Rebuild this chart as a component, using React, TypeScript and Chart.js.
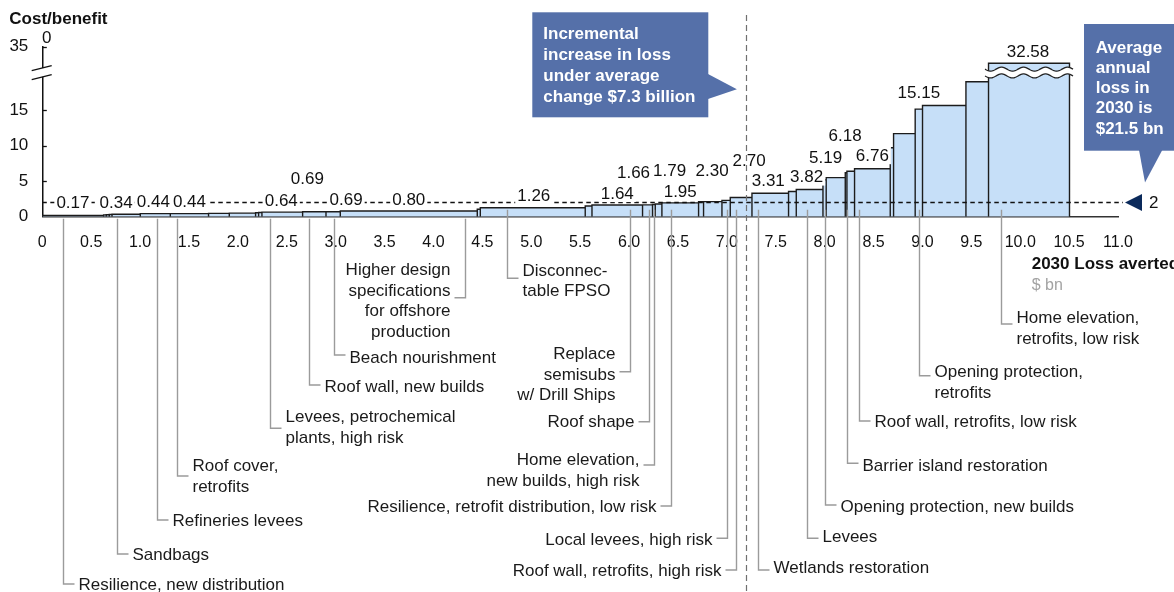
import React, { useEffect, useRef } from 'react';
import { Chart, registerables } from 'chart.js';

Chart.register(...registerables);

// ---------------- DATA ----------------
// width of each bar = 2030 loss averted ($ bn), in curve order
const WIDTHS = [
  0.627, 0.027, 0.031, 0.028, 0.289, 0.307, 0.391, 0.212, 0.269, 0.031, 0.034,
  0.416, 0.239, 0.146, 1.401, 0.031, 1.073, 0.069, 0.517, 0.102, 0.028, 0.068,
  0.375, 0.051, 0.188, 0.085, 0.222, 0.374, 0.079, 0.273, 0.033, 0.195, 0.017,
  0.078, 0.365, 0.034, 0.221, 0.075, 0.444, 0.231, 0.828,
];
// height of each bar = cost/benefit ratio
const HEIGHTS = [
  0.17, 0.25, 0.28, 0.31, 0.34, 0.44, 0.44, 0.47, 0.5, 0.55, 0.6,
  0.64, 0.69, 0.69, 0.8, 1.05, 1.26, 1.5, 1.64, 1.66, 1.72, 1.79,
  1.95, 2.1, 2.12, 2.3, 2.7, 3.31, 3.55, 3.82, 5.19, 5.5, 6.18,
  6.4, 6.76, 9.7, 11.7, 15.15, 15.65, 19.0, 32.58,
];
// bars whose ratio is printed
const VALUE_LABEL_BARS = [0, 4, 5, 6, 11, 12, 13, 14, 16, 18, 19, 21, 22, 25, 26, 27, 29, 30, 32, 34, 37, 40];
// bars with a measure name
const NAME_BARS = [0, 4, 5, 6, 11, 12, 13, 14, 16, 18, 19, 20, 22, 25, 26, 27, 29, 30, 32, 34, 37, 40];
const NAMES = [
  'Resilience, new distribution',
  'Sandbags',
  'Refineries levees',
  'Roof cover,\nretrofits',
  'Levees, petrochemical\nplants, high risk',
  'Roof wall, new builds',
  'Beach nourishment',
  'Higher design\nspecifications\nfor offshore\nproduction',
  'Disconnec-\ntable FPSO',
  'Replace\nsemisubs\nw/ Drill Ships',
  'Roof shape',
  'Home elevation,\nnew builds, high risk',
  'Resilience, retrofit distribution, low risk',
  'Local levees, high risk',
  'Roof wall, retrofits, high risk',
  'Wetlands restoration',
  'Levees',
  'Opening protection, new builds',
  'Barrier island restoration',
  'Roof wall, retrofits, low risk',
  'Opening protection,\nretrofits',
  'Home elevation,\nretrofits, low risk',
];
const X_TICK_VALUES = [0, 0.5, 1, 1.5, 2, 2.5, 3, 3.5, 4, 4.5, 5, 5.5, 6, 6.5, 7, 7.5, 8, 8.5, 9, 9.5, 10, 10.5, 11];
const X_TICK_LABELS = ['0', '0.5', '1.0', '1.5', '2.0', '2.5', '3.0', '3.5', '4.0', '4.5', '5.0', '5.5', '6.0', '6.5', '7.0', '7.5', '8.0', '8.5', '9.0', '9.5', '10.0', '10.5', '11.0'];
const Y_TICK_VALUES = [0, 5, 10, 15];
const Y_TOP_LABEL = '35';
const THRESHOLD = 2; // cost/benefit threshold line
const INCREMENTAL_X = 7.2; // loss averted matching incremental increase
const CALLOUT_1 = ['Incremental', 'increase in loss', 'under average', 'change $7.3 billion'];
const CALLOUT_2 = ['Average', 'annual', 'loss in', '2030 is', '$21.5 bn'];

// ---------------- AXIS BREAK ----------------
const X_MAX = 11;
const Y_MAX = 23.94; // drawn top of axis (labelled 35)
const BREAK_AT = 20; // values above are drawn broken
const BROKEN_BAR_DISPLAY = 21.6;
const BREAK_MARK = 20.3;
const displayHeight = (v: number) => (v > BREAK_AT ? BROKEN_BAR_DISPLAY : v);

// ---------------- LAYOUT (pixels) ----------------
const VALUE_LABEL_NUDGE: [number, number][] = [
  [0, 1.5], [-10, 0], [-2, 0], [0, 0], [-1, 0], [-7, 21], [13, 0], [0, 0], [1, 0], [0, 0], [-14, 21],
  [11, 22], [0, 0], [-14, 18], [8, 25], [-2, 1], [-3, 1], [1, 11], [-1, 26], [0, 1.5], [0, 5], [-1, 0],
];
type NL = { side: 'L' | 'R'; dx: number; hy: number; ty: number };
const NAME_LAYOUT: NL[] = [
  { side: 'R', dx: -9.6, hy: 584, ty: 584 },
  { side: 'R', dx: -9.6, hy: 554, ty: 554 },
  { side: 'R', dx: 1.7, hy: 520, ty: 520 },
  { side: 'R', dx: -12.3, hy: 476, ty: 465.7 },
  { side: 'R', dx: -12.7, hy: 428.3, ty: 416.7 },
  { side: 'R', dx: -5.7, hy: 385, ty: 386 },
  { side: 'R', dx: 0.4, hy: 355, ty: 357 },
  { side: 'L', dx: 56.5, hy: 297.7, ty: 269.3 },
  { side: 'R', dx: -25.8, hy: 278.3, ty: 270 },
  { side: 'L', dx: 12.3, hy: 371.7, ty: 353.3 },
  { side: 'L', dx: 1, hy: 421.7, ty: 421.7 },
  { side: 'L', dx: 0.3, hy: 465, ty: 459.3 },
  { side: 'L', dx: -9, hy: 506, ty: 506 },
  { side: 'L', dx: 0.8, hy: 538.3, ty: 539.3 },
  { side: 'L', dx: -4.9, hy: 570, ty: 570 },
  { side: 'R', dx: -12.7, hy: 570, ty: 567.3 },
  { side: 'R', dx: -2.7, hy: 538.3, ty: 536.7 },
  { side: 'R', dx: 0.6, hy: 505, ty: 506 },
  { side: 'R', dx: 0.8, hy: 463.3, ty: 465 },
  { side: 'R', dx: -13.8, hy: 421, ty: 421.7 },
  { side: 'R', dx: -0.3, hy: 375.7, ty: 371.7 },
  { side: 'R', dx: -27.8, hy: 324, ty: 317.3 },
];

const FONT = '"Liberation Sans", Arial, Helvetica, sans-serif';
const BAR_FILL = '#C6DFF8';
const BAR_EDGE = '#1c1c1c';
const CALLOUT_BLUE = '#5570A9';

const STARTS: number[] = [];
{
  let acc = 0;
  for (const w of WIDTHS) {
    STARTS.push(acc);
    acc += w;
  }
}

const overlayPlugin = {
  id: 'costCurveOverlay',
  afterDatasetsDraw(chart: any) {
    const { ctx, chartArea, scales } = chart;
    const xs = scales.x;
    const ys = scales.y;
    const px = (v: number) => xs.getPixelForValue(v);
    const py = (v: number) => ys.getPixelForValue(v);
    const base = py(0);
    const axisX = chartArea.left;
    ctx.save();

    // broken bar wave
    HEIGHTS.forEach((h, i) => {
      if (h <= BREAK_AT) return;
      const x0 = px(STARTS[i]) - 3.5;
      const x1 = px(STARTS[i] + WIDTHS[i]) + 4;
      const yc = py(BREAK_MARK);
      const wave = (x: number) => 2 * Math.sin(((x - x0) / 22) * 2 * Math.PI);
      ctx.fillStyle = '#fff';
      ctx.beginPath();
      for (let x = x0; x <= x1; x += 1) ctx.lineTo(x, yc - 3.4 + wave(x));
      for (let x = x1; x >= x0; x -= 1) ctx.lineTo(x, yc + 3.4 + wave(x));
      ctx.closePath();
      ctx.fill();
      ctx.strokeStyle = '#222';
      ctx.lineWidth = 1.3;
      [-3.4, 3.4].forEach((off) => {
        ctx.beginPath();
        for (let x = x0; x <= x1; x += 1) ctx.lineTo(x, yc + off + wave(x));
        ctx.stroke();
      });
    });

    // threshold line + marker
    const yT = py(THRESHOLD);
    const xEnd = px(X_MAX);
    ctx.strokeStyle = '#111';
    ctx.lineWidth = 1.3;
    ctx.setLineDash([4.5, 3.5]);
    ctx.beginPath();
    ctx.moveTo(axisX, yT);
    ctx.lineTo(xEnd + 5, yT);
    ctx.stroke();
    ctx.setLineDash([]);
    ctx.fillStyle = '#0B2A5B';
    ctx.beginPath();
    ctx.moveTo(xEnd + 7, yT);
    ctx.lineTo(xEnd + 24, yT - 8.5);
    ctx.lineTo(xEnd + 24, yT + 8.5);
    ctx.closePath();
    ctx.fill();
    ctx.fillStyle = '#111';
    ctx.font = `17px ${FONT}`;
    ctx.textAlign = 'left';
    ctx.textBaseline = 'middle';
    ctx.fillText(String(THRESHOLD), xEnd + 31, yT + 1);

    // value labels
    ctx.font = `17px ${FONT}`;
    VALUE_LABEL_BARS.forEach((bi, k) => {
      const [dx, lift] = VALUE_LABEL_NUDGE[k];
      const cx = px(STARTS[bi] + WIDTHS[bi] / 2) + dx;
      const cy = py(displayHeight(HEIGHTS[bi])) - 12 - lift;
      const txt = HEIGHTS[bi].toFixed(2);
      const w = ctx.measureText(txt).width;
      ctx.fillStyle = '#fff';
      ctx.fillRect(cx - w / 2 - 2, cy - 9, w + 4, 18);
      ctx.fillStyle = '#111';
      ctx.textAlign = 'center';
      ctx.fillText(txt, cx, cy + 1);
    });

    // leaders + measure names
    ctx.lineWidth = 1.4;
    NAME_BARS.forEach((bi, k) => {
      const L = NAME_LAYOUT[k];
      const lx = Math.round(px(STARTS[bi] + WIDTHS[bi] / 2) + L.dx) + 0.5;
      const barTop = py(displayHeight(HEIGHTS[bi]));
      const top = base - barTop > 8 ? base - 7 : base + 2;
      const hx = L.side === 'R' ? lx + 11 : lx - 11;
      ctx.strokeStyle = '#9b9b9b';
      ctx.beginPath();
      ctx.moveTo(lx, top);
      ctx.lineTo(lx, L.hy);
      ctx.lineTo(hx, L.hy);
      ctx.stroke();
      ctx.fillStyle = '#1a1a1a';
      ctx.textAlign = L.side === 'R' ? 'left' : 'right';
      const tx = L.side === 'R' ? lx + 15 : lx - 15;
      NAMES[k].split('\n').forEach((ln, j) => ctx.fillText(ln, tx, L.ty + j * 20.7 + 1));
    });

    // incremental loss vertical line
    const vx = Math.round(px(INCREMENTAL_X)) + 0.5;
    ctx.strokeStyle = '#707070';
    ctx.lineWidth = 1.2;
    ctx.setLineDash([6, 4]);
    ctx.beginPath();
    ctx.moveTo(vx, 15);
    ctx.lineTo(vx, chart.height);
    ctx.stroke();
    ctx.setLineDash([]);

    // y axis inner tick marks
    ctx.strokeStyle = '#111';
    ctx.lineWidth = 1.3;
    [...Y_TICK_VALUES.slice(1), Y_MAX].forEach((v) => {
      const y = Math.round(py(v)) + 0.5;
      ctx.beginPath();
      ctx.moveTo(axisX, y);
      ctx.lineTo(axisX + 4.5, y);
      ctx.stroke();
    });

    // y axis break
    const yb = py(BREAK_MARK);
    ctx.fillStyle = '#fff';
    ctx.fillRect(axisX - 3, yb - 4.5, 6, 8.8);
    ctx.strokeStyle = '#111';
    ctx.lineWidth = 1.3;
    ctx.beginPath();
    ctx.moveTo(axisX - 10.6, yb - 2);
    ctx.lineTo(axisX + 9.4, yb - 7);
    ctx.moveTo(axisX - 10.6, yb + 7);
    ctx.lineTo(axisX + 9.4, yb + 2);
    ctx.stroke();

    ctx.restore();
  },
  afterDraw(chart: any) {
    const { ctx, scales } = chart;
    const xs = scales.x;
    const ys = scales.y;
    ctx.save();
    ctx.textBaseline = 'middle';

    // titles
    ctx.fillStyle = '#111';
    ctx.textAlign = 'left';
    ctx.font = `bold 17px ${FONT}`;
    ctx.fillText('Cost/benefit', 9.3, 19.5);
    ctx.font = `17px ${FONT}`;
    ctx.textAlign = 'center';
    ctx.fillText('0', 46.7, 38);
    ctx.textAlign = 'left';
    ctx.font = `bold 17px ${FONT}`;
    ctx.fillText('2030 Loss averted', 1031.7, 264.5);
    ctx.font = `16px ${FONT}`;
    ctx.fillStyle = '#a3a3a3';
    ctx.fillText('$ bn', 1031.7, 285.5);

    // callout 1
    const tipX = xs.getPixelForValue(INCREMENTAL_X) - 9.5;
    ctx.fillStyle = CALLOUT_BLUE;
    ctx.fillRect(532.3, 12.3, 176, 105);
    ctx.beginPath();
    ctx.moveTo(708, 74);
    ctx.lineTo(tipX, 89.3);
    ctx.lineTo(708, 99);
    ctx.closePath();
    ctx.fill();
    ctx.fillStyle = '#fff';
    ctx.font = `bold 17px ${FONT}`;
    CALLOUT_1.forEach((ln, j) => ctx.fillText(ln, 543.3, 34 + j * 21.1));

    // callout 2
    const tipY = ys.getPixelForValue(THRESHOLD) - 20;
    ctx.fillStyle = CALLOUT_BLUE;
    ctx.fillRect(1084, 24, 100, 126.7);
    ctx.beginPath();
    ctx.moveTo(1139, 150);
    ctx.lineTo(1145, tipY);
    ctx.lineTo(1162.3, 150);
    ctx.closePath();
    ctx.fill();
    ctx.fillStyle = '#fff';
    CALLOUT_2.forEach((ln, j) => ctx.fillText(ln, 1095.7, 48 + j * 20.25));

    ctx.restore();
  },
};

export default function App() {
  const canvasRef = useRef<HTMLCanvasElement | null>(null);

  useEffect(() => {
    if (!canvasRef.current) return;
    const points: { x: number; y: number }[] = [];
    WIDTHS.forEach((w, i) => {
      const x0 = STARTS[i];
      const x1 = x0 + w;
      const h = displayHeight(HEIGHTS[i]);
      points.push({ x: x0, y: 0 }, { x: x0, y: h }, { x: x1, y: h }, { x: x1, y: 0 });
    });

    const chart = new Chart(canvasRef.current, {
      type: 'line',
      data: {
        datasets: [
          {
            data: points,
            borderColor: BAR_EDGE,
            borderWidth: 1.4,
            backgroundColor: BAR_FILL,
            fill: 'origin',
            pointRadius: 0,
            pointHoverRadius: 0,
            tension: 0,
            borderJoinStyle: 'miter',
          } as any,
        ],
      },
      options: {
        responsive: false,
        animation: false,
        events: [],
        layout: { padding: { top: 46.7, right: 56, left: 0, bottom: 0 } },
        plugins: { legend: { display: false }, tooltip: { enabled: false } },
        scales: {
          x: {
            type: 'linear',
            min: 0,
            max: X_MAX,
            grid: { display: false, drawTicks: false },
            border: { display: true, color: '#333', width: 1.5 },
            afterBuildTicks: (s: any) => {
              s.ticks = X_TICK_VALUES.map((v) => ({ value: v }));
            },
            ticks: {
              autoSkip: false,
              maxRotation: 0,
              padding: 16,
              color: '#111',
              font: { size: 16, family: FONT },
              callback: (_v: any, i: number) => X_TICK_LABELS[i],
            },
            afterFit: (s: any) => {
              s.height = 375.3;
            },
          },
          y: {
            type: 'linear',
            min: 0,
            max: Y_MAX,
            grid: { display: false, drawTicks: false },
            border: { display: true, color: '#111', width: 1.5 },
            afterBuildTicks: (s: any) => {
              s.ticks = [...Y_TICK_VALUES, Y_MAX].map((v) => ({ value: v }));
            },
            ticks: {
              padding: 14,
              color: '#111',
              font: { size: 17, family: FONT },
              callback: (v: any) => (v === Y_MAX ? Y_TOP_LABEL : String(v)),
            },
            afterFit: (s: any) => {
              s.width = 42.3;
            },
          },
        },
      },
      plugins: [overlayPlugin],
    });
    return () => chart.destroy();
  }, []);

  return (
    <div style={{ position: 'fixed', left: 0, top: 0, width: 1174, height: 592, background: '#fff' }}>
      <canvas ref={canvasRef} width={1174} height={592} />
    </div>
  );
}
